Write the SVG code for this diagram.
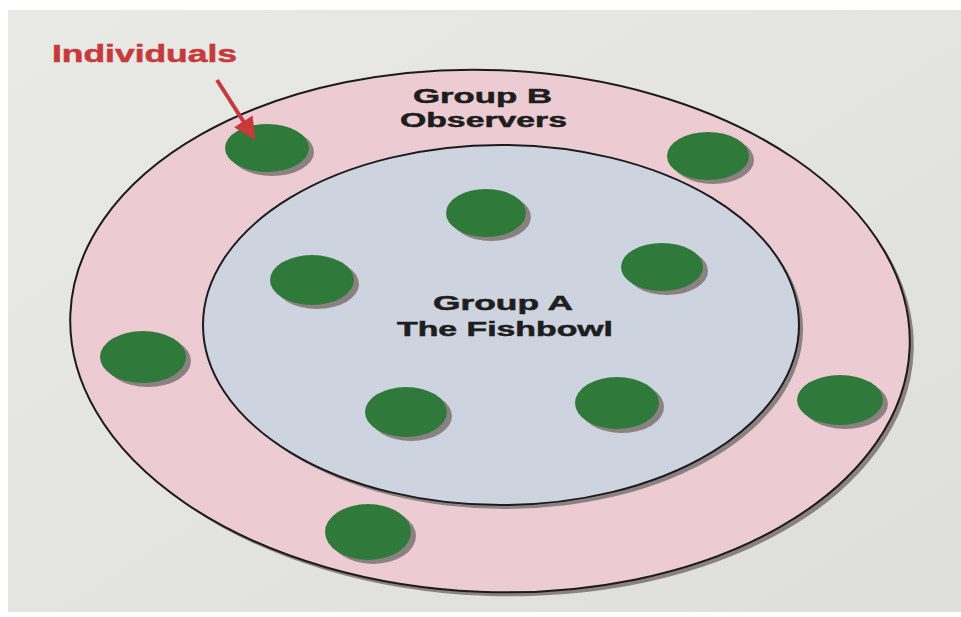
<svg xmlns="http://www.w3.org/2000/svg" width="961" height="617" viewBox="0 0 961 617">
<defs>
<style>
.lbl{font-family:"Liberation Sans",Arial,sans-serif;font-weight:bold;fill:#1e1e1e;stroke:#1e1e1e;stroke-width:0.5px;font-size:20px}
.red{font-family:"Liberation Sans",Arial,sans-serif;font-weight:bold;fill:#c63a3c;stroke:#c63a3c;stroke-width:0.5px;font-size:23px}
.dot{fill:#2f7a3b}
.sh{fill:#8b8181}
.ring{stroke:#1c1c1c;stroke-width:2}
</style>
<linearGradient id="page" x1="0" y1="0" x2="1" y2="1">
<stop offset="0" stop-color="#e9e9e5"/>
<stop offset="1" stop-color="#dedfdb"/>
</linearGradient>
<marker id="ah" viewBox="0 0 10 10" refX="9" refY="5" markerWidth="5.5" markerHeight="5.5" orient="auto" markerUnits="strokeWidth">
<path d="M0,0 L10,5 L0,10 z" fill="#c63a3c"/>
</marker>
</defs>
<rect x="0" y="0" width="961" height="617" fill="#ffffff"/>
<rect x="8" y="10" width="953" height="602" fill="url(#page)"/>

<g id="groupB">
<ellipse cx="494" cy="335" rx="420" ry="261" transform="rotate(2.3 494 335)" class="sh"/>
<ellipse cx="490" cy="331" rx="420" ry="261" transform="rotate(2.3 490 331)" fill="#ecccd2" class="ring"/>
<text class="lbl" x="413" y="103" textLength="139" lengthAdjust="spacingAndGlyphs">Group B</text>
<text class="lbl" x="400" y="127" textLength="167" lengthAdjust="spacingAndGlyphs">Observers</text>
</g>

<g id="groupA">
<ellipse cx="505" cy="329" rx="298" ry="180" class="sh"/>
<ellipse cx="501" cy="325" rx="298" ry="180" fill="#cdd3df" class="ring"/>
<text class="lbl" x="433" y="310" textLength="140" lengthAdjust="spacingAndGlyphs">Group A</text>
<text class="lbl" x="397" y="336" textLength="216" lengthAdjust="spacingAndGlyphs">The Fishbowl</text>
</g>

<g id="ind1"><ellipse cx="272" cy="152" rx="42" ry="24" class="sh"/><ellipse cx="267" cy="148" rx="42" ry="24" class="dot"/></g>
<g id="ind2"><ellipse cx="713" cy="160" rx="41" ry="24" class="sh"/><ellipse cx="708" cy="156" rx="41" ry="24" class="dot"/></g>
<g id="ind3"><ellipse cx="491" cy="217" rx="40" ry="24" class="sh"/><ellipse cx="486" cy="213" rx="40" ry="24" class="dot"/></g>
<g id="ind4"><ellipse cx="317" cy="284" rx="42" ry="25" class="sh"/><ellipse cx="312" cy="280" rx="42" ry="25" class="dot"/></g>
<g id="ind5"><ellipse cx="667" cy="271" rx="41" ry="24" class="sh"/><ellipse cx="662" cy="267" rx="41" ry="24" class="dot"/></g>
<g id="ind6"><ellipse cx="148" cy="361" rx="43" ry="26" class="sh"/><ellipse cx="143" cy="357" rx="43" ry="26" class="dot"/></g>
<g id="ind7"><ellipse cx="411" cy="416" rx="41" ry="25" class="sh"/><ellipse cx="406" cy="412" rx="41" ry="25" class="dot"/></g>
<g id="ind8"><ellipse cx="622" cy="407" rx="42" ry="26" class="sh"/><ellipse cx="617" cy="403" rx="42" ry="26" class="dot"/></g>
<g id="ind9"><ellipse cx="845" cy="404" rx="43" ry="25" class="sh"/><ellipse cx="840" cy="400" rx="43" ry="25" class="dot"/></g>
<g id="ind10"><ellipse cx="373" cy="536" rx="43" ry="28" class="sh"/><ellipse cx="368" cy="532" rx="43" ry="28" class="dot"/></g>

<g id="label-individuals">
<text class="red" x="52" y="62" textLength="185" lengthAdjust="spacingAndGlyphs">Individuals</text>
</g>

<g id="connectors">
<line x1="217" y1="80" x2="254" y2="138" stroke="#c63a3c" stroke-width="4" marker-end="url(#ah)"/>
</g>
</svg>
